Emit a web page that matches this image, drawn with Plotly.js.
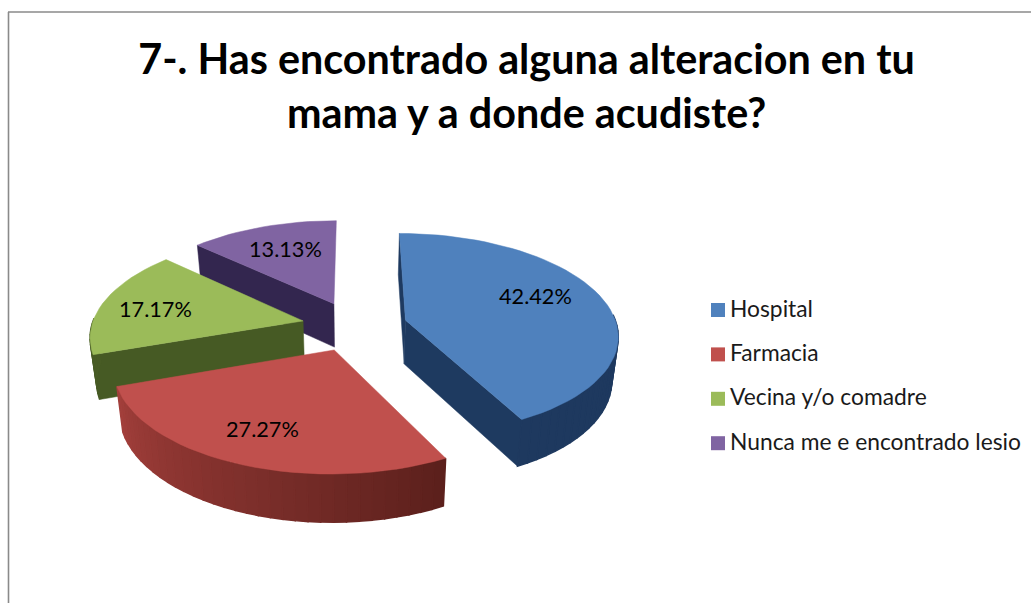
<!DOCTYPE html>
<html>
<head>
<meta charset="utf-8">
<script src="https://cdn.plot.ly/plotly-3.0.1.min.js"></script>
<style>html,body{margin:0;padding:0;background:#fff}#chart{width:1031px;height:603px}</style>
</head>
<body>
<div id="chart"></div>
<script>
// ---- data ----
const categories = ['Hospital', 'Farmacia', 'Vecina y/o comadre', 'Nunca me e encontrado lesio'];
const values = [42.42, 27.27, 17.17, 13.13];
const titleText = '7-. Has encontrado alguna alteracion en tu<br>mama y a donde acudiste?';

// ---- styles ----
const topColors = ['#4F81BD', '#C0504D', '#9BBB59', '#8064A2'];
const wallColors = ['#1E3A60', '#6E2A27', '#465A24', '#33264F'];
const rimStart = [[30, 57, 95], [92, 32, 28], [70, 90, 36], [51, 38, 79]];
const rimEnd = [[30, 57, 95], [164, 64, 60], [78, 98, 40], [51, 38, 79]];
const drawOrder = [3, 2, 0, 1];

// ---- 3D pie projection parameters ----
const cx = 354.5, cy = 326, rx = 211.5, ry = 100, persp = 0.136, explode = 0.25, depth = 44, baseShrink = 0.975;
const total = values.reduce((a, b) => a + b, 0);
const rad = d => d * Math.PI / 180;
function world(angle, r, bis) {
  return [r * Math.sin(angle) + explode * Math.sin(bis), -r * Math.cos(angle) - explode * Math.cos(bis)];
}
function project(w, lower) {
  const s = 1 / (1 - persp * w[1]);
  let x = cx + rx * w[0] * s, y = cy + ry * w[1] * s;
  if (lower) { x = cx + (x - cx) * baseShrink; y += depth * Math.sqrt(s); }
  return [x, y];
}
function poly(points, color, name, lineWidth) {
  const x = points.map(p => p[0]), y = points.map(p => p[1]);
  x.push(x[0]); y.push(y[0]);
  return {type: 'scatter', mode: 'lines', x, y, fill: 'toself', fillcolor: color, name: name || '',
    line: {color, width: lineWidth}, hoverinfo: name ? 'name' : 'skip', showlegend: false};
}
const lerp = (a, b, t) => 'rgb(' + a.map((v, i) => Math.round(v + (b[i] - v) * t)).join(',') + ')';

// slice angles from the values
let cum = 0;
const slices = values.map(v => {
  const a0 = cum / total * 2 * Math.PI; cum += v;
  const a1 = cum / total * 2 * Math.PI;
  return {a0, a1, bis: (a0 + a1) / 2};
});

const traces = [];
drawOrder.forEach(i => {
  const {a0, a1, bis} = slices[i];
  const steps = Math.max(8, Math.round((a1 - a0) / rad(3)));
  const apex = world(0, 0, bis);
  const angleAt = k => a0 + (a1 - a0) * k / steps;
  const rim = [];
  for (let k = 0; k <= steps; k++) rim.push(world(angleAt(k), 1, bis));
  // radial walls, only those that face the viewer
  if (-Math.cos(a0 - Math.PI / 2) > -0.01) {
    traces.push(poly([project(apex), project(rim[0]), project(rim[0], true), project(apex, true)], wallColors[i], '', 0.5));
  }
  if (-Math.cos(a1 + Math.PI / 2) > 0.01) {
    traces.push(poly([project(apex), project(rim[steps]), project(rim[steps], true), project(apex, true)], wallColors[i], '', 0.5));
  }
  // outer wall, shaded along its arc, front-facing part only
  for (let k = 0; k < steps; k++) {
    if (Math.cos(angleAt(k + 0.5)) > 0.03) continue;
    traces.push(poly([project(rim[k]), project(rim[k + 1]), project(rim[k + 1], true), project(rim[k], true)],
      lerp(rimStart[i], rimEnd[i], k / steps), '', 1.5));
  }
  // top face
  traces.push(poly([project(apex)].concat(rim.map(p => project(p))), topColors[i], categories[i], 0.5));
});

// ---- key ----
const keyX = 718, keyTextX = 730, keyTop = 310, keyStep = 44.4;
traces.push({type: 'scatter', mode: 'markers',
  x: categories.map(() => keyX),
  y: categories.map((c, i) => keyTop + i * keyStep),
  marker: {symbol: 'square', size: 14, color: topColors, line: {width: 0}},
  hoverinfo: 'skip', showlegend: false});
traces.push({type: 'scatter', mode: 'text',
  x: categories.map(() => keyTextX),
  y: categories.map((c, i) => keyTop + 1 + i * keyStep),
  text: categories, textposition: 'middle right', cliponaxis: false,
  textfont: {family: 'Lato, sans-serif', size: 22.8, color: '#1a1a1a'},
  hoverinfo: 'text', showlegend: false});

// ---- percentage labels ----
const labelPos = [[535, 296], [262, 429], [155, 309], [285, 249]];
const annotations = values.map((v, i) => ({
  x: labelPos[i][0], y: labelPos[i][1], xref: 'x', yref: 'y', showarrow: false,
  text: v.toFixed(2) + '%', font: {family: 'Lato, sans-serif', size: 21.7, color: '#000'}
}));

const layout = {
  width: 1031, height: 603, margin: {l: 0, r: 0, t: 0, b: 0},
  paper_bgcolor: '#fff', plot_bgcolor: '#fff', showlegend: false,
  title: {text: titleText, x: 0.5107, xref: 'paper', xanchor: 'center', y: 0.877, yanchor: 'top',
    font: {family: 'Lato, sans-serif', size: 41.3, color: '#000', weight: 700}},
  xaxis: {range: [0, 1031], visible: false, fixedrange: true},
  yaxis: {range: [603, 0], visible: false, fixedrange: true},
  annotations,
  shapes: [
    {type: 'line', xref: 'paper', yref: 'paper', x0: 8.5 / 1031, x1: 8.5 / 1031, y0: 0, y1: 1 - 12 / 603, line: {color: '#8A8A8A', width: 1.6}},
    {type: 'line', xref: 'paper', yref: 'paper', x0: 8 / 1031, x1: 1, y0: 1 - 12 / 603, y1: 1 - 12 / 603, line: {color: '#8A8A8A', width: 1.6}}
  ]
};
Plotly.newPlot('chart', traces, layout, {displayModeBar: false, staticPlot: true});
</script>
</body>
</html>
